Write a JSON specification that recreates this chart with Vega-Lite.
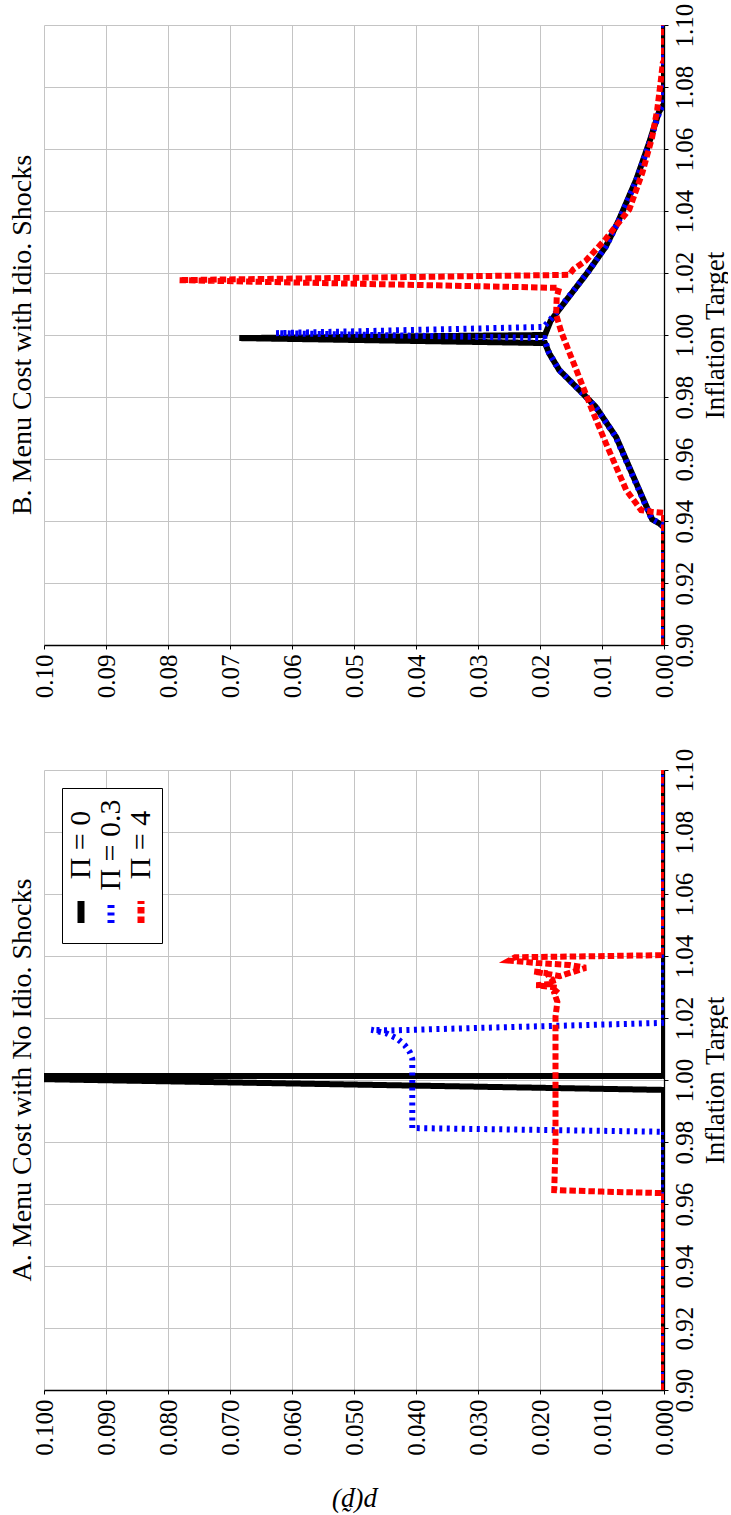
{
  "$schema": "https://vega.github.io/schema/vega-lite/v6.json",
  "padding": {"left": 8, "top": 3, "right": 0, "bottom": 5},
  "config": {
    "font": "Liberation Serif",
    "view": {"stroke": null},
    "axis": {
      "labelFont": "Liberation Serif", "labelFontSize": 25, "labelColor": "black",
      "titleFont": "Liberation Serif", "titleFontSize": 27, "titleFontWeight": "normal", "titleColor": "black",
      "gridColor": "#c4c4c4", "gridWidth": 1,
      "domainColor": "black", "domainWidth": 1.3,
      "tickColor": "black", "tickSize": 4,
      "labelFlush": false, "labelOverlap": false
    },
    "title": {"font": "Liberation Serif", "fontSize": 28, "fontWeight": "normal", "color": "black"},
    "legend": {
      "orient": "top-left", "offset": 18, "direction": "horizontal", "title": null,
      "symbolType": "stroke", "symbolSize": 17956, "symbolStrokeWidth": 7,
      "labelFont": "Liberation Serif", "labelFontSize": 30, "labelColor": "black",
      "columnPadding": 0, "padding": 6,
      "strokeColor": "black", "fillColor": "white", "cornerRadius": 0
    }
  },
  "datasets": {
    "B": [
      {"series": "Π = 0", "i": 1, "p": 0, "target": 0.9},
      {"series": "Π = 0", "i": 2, "p": 0, "target": 0.938},
      {"series": "Π = 0", "i": 3, "p": 0.0008, "target": 0.9393},
      {"series": "Π = 0", "i": 4, "p": 0.0019, "target": 0.9405},
      {"series": "Π = 0", "i": 5, "p": 0.0045, "target": 0.9523},
      {"series": "Π = 0", "i": 6, "p": 0.0077, "target": 0.967},
      {"series": "Π = 0", "i": 7, "p": 0.011, "target": 0.9768},
      {"series": "Π = 0", "i": 8, "p": 0.0132, "target": 0.9813},
      {"series": "Π = 0", "i": 9, "p": 0.0169, "target": 0.9887},
      {"series": "Π = 0", "i": 10, "p": 0.0185, "target": 0.994},
      {"series": "Π = 0", "i": 11, "p": 0.0192, "target": 0.9974},
      {"series": "Π = 0", "i": 12, "p": 0.0685, "target": 0.999},
      {"series": "Π = 0", "i": 13, "p": 0.0192, "target": 1.0},
      {"series": "Π = 0", "i": 14, "p": 0.0183, "target": 1.0045},
      {"series": "Π = 0", "i": 15, "p": 0.0168, "target": 1.0085},
      {"series": "Π = 0", "i": 16, "p": 0.0145, "target": 1.0145},
      {"series": "Π = 0", "i": 17, "p": 0.0122, "target": 1.0205},
      {"series": "Π = 0", "i": 18, "p": 0.0094, "target": 1.0285},
      {"series": "Π = 0", "i": 19, "p": 0.0073, "target": 1.037},
      {"series": "Π = 0", "i": 20, "p": 0.0045, "target": 1.05},
      {"series": "Π = 0", "i": 21, "p": 0.0024, "target": 1.062},
      {"series": "Π = 0", "i": 22, "p": 0.0008, "target": 1.072},
      {"series": "Π = 0", "i": 23, "p": 0, "target": 1.0745},
      {"series": "Π = 0", "i": 24, "p": 0, "target": 1.1},

      {"series": "Π = 0.3", "i": 1, "p": 0, "target": 0.9},
      {"series": "Π = 0.3", "i": 2, "p": 0, "target": 0.9385},
      {"series": "Π = 0.3", "i": 3, "p": 0.0009, "target": 0.9395},
      {"series": "Π = 0.3", "i": 4, "p": 0.002, "target": 0.9407},
      {"series": "Π = 0.3", "i": 5, "p": 0.0046, "target": 0.9525},
      {"series": "Π = 0.3", "i": 6, "p": 0.0078, "target": 0.9672},
      {"series": "Π = 0.3", "i": 7, "p": 0.0111, "target": 0.977},
      {"series": "Π = 0.3", "i": 8, "p": 0.0133, "target": 0.9815},
      {"series": "Π = 0.3", "i": 9, "p": 0.017, "target": 0.9889},
      {"series": "Π = 0.3", "i": 10, "p": 0.0186, "target": 0.9945},
      {"series": "Π = 0.3", "i": 11, "p": 0.0193, "target": 0.999},
      {"series": "Π = 0.3", "i": 12, "p": 0.0626, "target": 1.0006},
      {"series": "Π = 0.3", "i": 13, "p": 0.0194, "target": 1.0026},
      {"series": "Π = 0.3", "i": 14, "p": 0.0183, "target": 1.005},
      {"series": "Π = 0.3", "i": 15, "p": 0.0168, "target": 1.0088},
      {"series": "Π = 0.3", "i": 16, "p": 0.0144, "target": 1.0148},
      {"series": "Π = 0.3", "i": 17, "p": 0.0121, "target": 1.0208},
      {"series": "Π = 0.3", "i": 18, "p": 0.0093, "target": 1.0288},
      {"series": "Π = 0.3", "i": 19, "p": 0.0072, "target": 1.0372},
      {"series": "Π = 0.3", "i": 20, "p": 0.0044, "target": 1.0502},
      {"series": "Π = 0.3", "i": 21, "p": 0.0023, "target": 1.0622},
      {"series": "Π = 0.3", "i": 22, "p": 0.0007, "target": 1.0722},
      {"series": "Π = 0.3", "i": 23, "p": 0, "target": 1.0748},
      {"series": "Π = 0.3", "i": 24, "p": 0, "target": 1.1},

      {"series": "Π = 4", "i": 1, "p": 0, "target": 0.9},
      {"series": "Π = 4", "i": 2, "p": 0, "target": 0.9426},
      {"series": "Π = 4", "i": 3, "p": 0.002, "target": 0.943},
      {"series": "Π = 4", "i": 4, "p": 0.0037, "target": 0.9435},
      {"series": "Π = 4", "i": 5, "p": 0.0061, "target": 0.95},
      {"series": "Π = 4", "i": 6, "p": 0.0094, "target": 0.9652},
      {"series": "Π = 4", "i": 7, "p": 0.0116, "target": 0.9758},
      {"series": "Π = 4", "i": 8, "p": 0.0137, "target": 0.9865},
      {"series": "Π = 4", "i": 9, "p": 0.0165, "target": 1.0006},
      {"series": "Π = 4", "i": 10, "p": 0.0174, "target": 1.0065},
      {"series": "Π = 4", "i": 11, "p": 0.0173, "target": 1.0123},
      {"series": "Π = 4", "i": 12, "p": 0.0169, "target": 1.0152},
      {"series": "Π = 4", "i": 13, "p": 0.0782, "target": 1.0177},
      {"series": "Π = 4", "i": 14, "p": 0.0153, "target": 1.0194},
      {"series": "Π = 4", "i": 15, "p": 0.0146, "target": 1.0212},
      {"series": "Π = 4", "i": 16, "p": 0.0126, "target": 1.024},
      {"series": "Π = 4", "i": 17, "p": 0.0094, "target": 1.031},
      {"series": "Π = 4", "i": 18, "p": 0.0056, "target": 1.0405},
      {"series": "Π = 4", "i": 19, "p": 0.0035, "target": 1.0523},
      {"series": "Π = 4", "i": 20, "p": 0.0019, "target": 1.0639},
      {"series": "Π = 4", "i": 21, "p": 0.0011, "target": 1.0726},
      {"series": "Π = 4", "i": 22, "p": 0.0005, "target": 1.0823},
      {"series": "Π = 4", "i": 23, "p": 0.0002, "target": 1.0877},
      {"series": "Π = 4", "i": 24, "p": 0, "target": 1.0885},
      {"series": "Π = 4", "i": 25, "p": 0, "target": 1.1}
    ],
    "A": [
      {"series": "Π = 0", "i": 1, "p": 0, "target": 0.9},
      {"series": "Π = 0", "i": 2, "p": 0, "target": 0.9968},
      {"series": "Π = 0", "i": 3, "p": 0.13, "target": 1.0013},
      {"series": "Π = 0", "i": 4, "p": 0, "target": 1.0013},
      {"series": "Π = 0", "i": 5, "p": 0, "target": 1.1},

      {"series": "Π = 0.3", "i": 1, "p": 0, "target": 0.9},
      {"series": "Π = 0.3", "i": 2, "p": 0, "target": 0.9833},
      {"series": "Π = 0.3", "i": 3, "p": 0.02, "target": 0.9839},
      {"series": "Π = 0.3", "i": 4, "p": 0.0406, "target": 0.9845},
      {"series": "Π = 0.3", "i": 5, "p": 0.0406, "target": 1.0},
      {"series": "Π = 0.3", "i": 6, "p": 0.0406, "target": 1.0068},
      {"series": "Π = 0.3", "i": 7, "p": 0.041, "target": 1.009},
      {"series": "Π = 0.3", "i": 8, "p": 0.0418, "target": 1.0112},
      {"series": "Π = 0.3", "i": 9, "p": 0.043, "target": 1.0133},
      {"series": "Π = 0.3", "i": 10, "p": 0.0447, "target": 1.015},
      {"series": "Π = 0.3", "i": 11, "p": 0.0472, "target": 1.0162},
      {"series": "Π = 0.3", "i": 12, "p": 0.044, "target": 1.016},
      {"series": "Π = 0.3", "i": 13, "p": 0.03, "target": 1.0168},
      {"series": "Π = 0.3", "i": 14, "p": 0.015, "target": 1.0176},
      {"series": "Π = 0.3", "i": 15, "p": 0.0005, "target": 1.0184},
      {"series": "Π = 0.3", "i": 16, "p": 0, "target": 1.0185},
      {"series": "Π = 0.3", "i": 17, "p": 0, "target": 1.1},

      {"series": "Π = 4", "i": 1, "p": 0, "target": 0.9},
      {"series": "Π = 4", "i": 2, "p": 0, "target": 0.9635},
      {"series": "Π = 4", "i": 3, "p": 0.01, "target": 0.964},
      {"series": "Π = 4", "i": 4, "p": 0.0177, "target": 0.9645},
      {"series": "Π = 4", "i": 5, "p": 0.0175, "target": 0.98},
      {"series": "Π = 4", "i": 6, "p": 0.0175, "target": 1.0},
      {"series": "Π = 4", "i": 7, "p": 0.0175, "target": 1.0204},
      {"series": "Π = 4", "i": 8, "p": 0.0172, "target": 1.0252},
      {"series": "Π = 4", "i": 9, "p": 0.0177, "target": 1.0281},
      {"series": "Π = 4", "i": 10, "p": 0.017, "target": 1.0297},
      {"series": "Π = 4", "i": 11, "p": 0.0206, "target": 1.0306},
      {"series": "Π = 4", "i": 12, "p": 0.0178, "target": 1.031},
      {"series": "Π = 4", "i": 13, "p": 0.018, "target": 1.0323},
      {"series": "Π = 4", "i": 14, "p": 0.019, "target": 1.0345},
      {"series": "Π = 4", "i": 15, "p": 0.021, "target": 1.035},
      {"series": "Π = 4", "i": 16, "p": 0.0168, "target": 1.0335},
      {"series": "Π = 4", "i": 17, "p": 0.0126, "target": 1.0362},
      {"series": "Π = 4", "i": 18, "p": 0.0153, "target": 1.0371},
      {"series": "Π = 4", "i": 19, "p": 0.0202, "target": 1.0377},
      {"series": "Π = 4", "i": 20, "p": 0.025, "target": 1.0385},
      {"series": "Π = 4", "i": 21, "p": 0.024, "target": 1.0396},
      {"series": "Π = 4", "i": 22, "p": 0.012, "target": 1.0399},
      {"series": "Π = 4", "i": 23, "p": 0, "target": 1.0403},
      {"series": "Π = 4", "i": 24, "p": 0, "target": 1.1}
    ]
  },
  "bounds": "flush",
  "spacing": 125,
  "resolve": {
    "scale": {"color": "independent", "strokeDash": "independent"},
    "legend": {"color": "independent", "strokeDash": "independent"}
  },
  "vconcat": [
    {
      "width": 620,
      "height": 620,
      "title": {"text": "B. Menu Cost with Idio. Shocks", "orient": "left", "anchor": "middle", "offset": -5},
      "data": {"name": "B"},
      "mark": {"type": "line", "strokeWidth": 6, "clip": true},
      "encoding": {
        "x": {
          "field": "p", "type": "quantitative",
          "scale": {"domain": [0, 0.1], "reverse": true, "nice": false, "zero": false},
          "axis": {
            "orient": "bottom", "title": null, "format": ".2f",
            "values": [0, 0.01, 0.02, 0.03, 0.04, 0.05, 0.06, 0.07, 0.08, 0.09, 0.1],
            "labelAngle": -90, "labelAlign": "right", "labelBaseline": "middle", "labelPadding": 5
          }
        },
        "y": {
          "field": "target", "type": "quantitative",
          "scale": {"domain": [0.9, 1.1], "nice": false, "zero": false},
          "axis": {
            "orient": "right", "title": "Inflation Target", "format": ".2f",
            "values": [0.9, 0.92, 0.94, 0.96, 0.98, 1.0, 1.02, 1.04, 1.06, 1.08, 1.1],
            "labelAngle": -90, "labelAlign": "center", "labelBaseline": "top", "labelPadding": 4,
            "titleAngle": -90, "titleBaseline": "top", "titlePadding": 5
          }
        },
        "color": {
          "field": "series", "type": "nominal",
          "scale": {"domain": ["Π = 0", "Π = 0.3", "Π = 4"], "range": ["#000000", "#0000ff", "#ff0000"]},
          "legend": null
        },
        "strokeDash": {
          "field": "series", "type": "nominal",
          "scale": {"domain": ["Π = 0", "Π = 0.3", "Π = 4"], "range": [[1, 0], [3, 4.5], [6.5, 3]]},
          "legend": null
        },
        "order": {"field": "i", "type": "quantitative"}
      }
    },
    {
      "width": 620,
      "height": 620,
      "title": {"text": "A. Menu Cost with No Idio. Shocks", "orient": "left", "anchor": "middle", "offset": -5},
      "data": {"name": "A"},
      "mark": {"type": "line", "strokeWidth": 6, "clip": true},
      "encoding": {
        "x": {
          "field": "p", "type": "quantitative",
          "scale": {"domain": [0, 0.1], "reverse": true, "nice": false, "zero": false},
          "axis": {
            "orient": "bottom", "title": "p(p\u0303)", "format": ".3f",
            "values": [0, 0.01, 0.02, 0.03, 0.04, 0.05, 0.06, 0.07, 0.08, 0.09, 0.1],
            "labelAngle": -90, "labelAlign": "right", "labelBaseline": "middle", "labelPadding": 5,
            "titleAngle": 180, "titleBaseline": "bottom", "titleFontStyle": "italic", "titlePadding": 32
          }
        },
        "y": {
          "field": "target", "type": "quantitative",
          "scale": {"domain": [0.9, 1.1], "nice": false, "zero": false},
          "axis": {
            "orient": "right", "title": "Inflation Target", "format": ".2f",
            "values": [0.9, 0.92, 0.94, 0.96, 0.98, 1.0, 1.02, 1.04, 1.06, 1.08, 1.1],
            "labelAngle": -90, "labelAlign": "center", "labelBaseline": "top", "labelPadding": 4,
            "titleAngle": -90, "titleBaseline": "top", "titlePadding": 5
          }
        },
        "color": {
          "field": "series", "type": "nominal",
          "scale": {"domain": ["Π = 0", "Π = 0.3", "Π = 4"], "range": ["#000000", "#0000ff", "#ff0000"]},
          "legend": {
            "encode": {
              "symbols": {"update": {"angle": {"value": -90}, "size": {"value": 484}, "x": {"value": 13}, "y": {"value": 118}}},
              "labels": {"update": {"angle": {"value": -90}, "align": {"value": "center"}, "baseline": {"value": "middle"}, "x": {"value": 13}, "y": {"value": 51}}}
            }
          }
        },
        "strokeDash": {
          "field": "series", "type": "nominal",
          "scale": {"domain": ["Π = 0", "Π = 0.3", "Π = 4"], "range": [[1, 0], [3, 4.5], [6.5, 3]]},
          "legend": {
            "encode": {
              "symbols": {"update": {"angle": {"value": -90}, "size": {"value": 484}, "x": {"value": 13}, "y": {"value": 118}}},
              "labels": {"update": {"angle": {"value": -90}, "align": {"value": "center"}, "baseline": {"value": "middle"}, "x": {"value": 13}, "y": {"value": 51}}}
            }
          }
        },
        "order": {"field": "i", "type": "quantitative"}
      }
    }
  ]
}
